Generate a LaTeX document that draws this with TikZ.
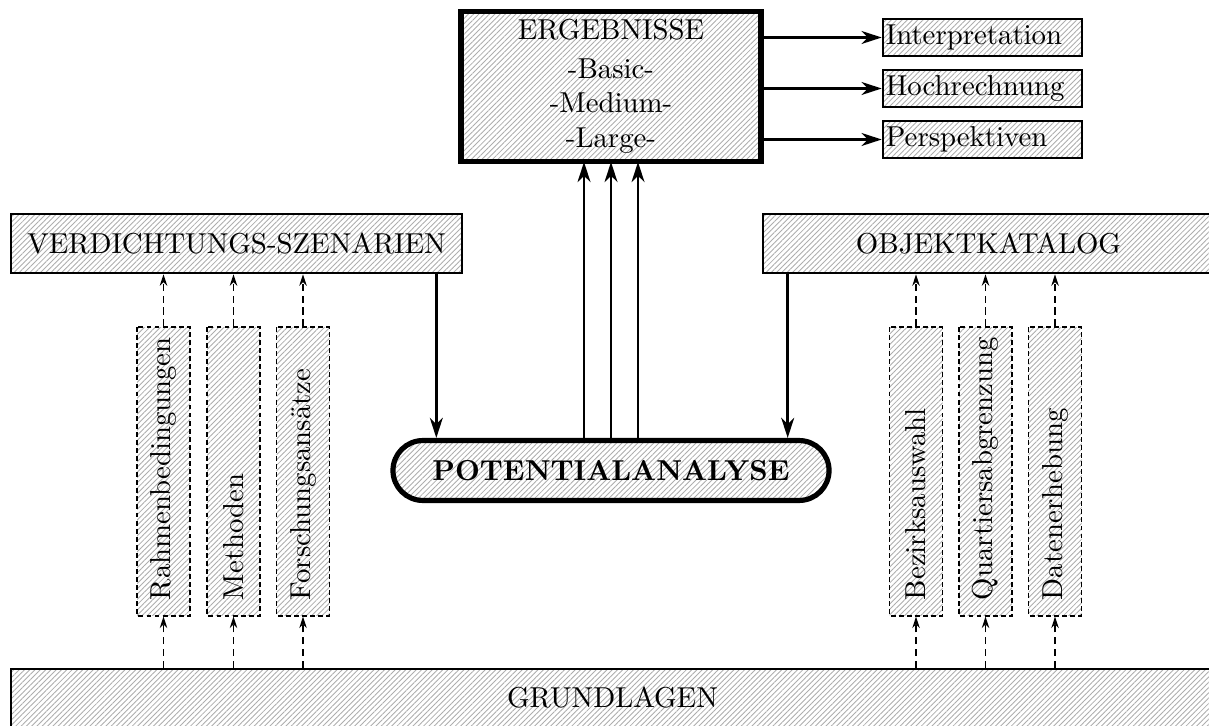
\documentclass[tikz,border=0pt]{standalone}
\usetikzlibrary{arrows.meta,patterns.meta,calc}
\begin{document}
\begin{tikzpicture}[x=0.3472pt,y=-0.3472pt,
  hatch/.style={pattern={Lines[angle=45,distance=1.3pt,line width=0.3pt]},pattern color=black!32},
  box/.style={draw,line width=0.9pt,hatch,inner sep=0pt},
  heavybox/.style={draw,line width=1.8pt,hatch,inner sep=0pt},
  sidebox/.style={box,minimum width=69.1pt,minimum height=12.85pt,text width=67.1pt,inner xsep=1pt,align=left},
  widebox/.style={box,minimum width=156.6pt,minimum height=20.5pt},
  sbox/.style={draw,line width=0.45pt,dash pattern=on 1.7pt off 1.1pt,hatch,rotate=90,
     minimum height=18.4pt,text width=89.3pt,inner xsep=5.5pt,inner ysep=0pt,align=left},
  arr/.style={line width=0.85pt,-{Stealth[length=7pt,width=4.5pt,inset=2.2pt]}},
  darr/.style={line width=0.5pt,dash pattern=on 2.5pt off 1.6pt,-{Stealth[length=4pt,width=2.6pt,inset=1.3pt]}}
]
\useasboundingbox (0,0) rectangle (1209,726);

% top
\node[heavybox,minimum width=104.2pt,minimum height=52.1pt,align=center] (erg) at (611,86.5)
  {ERGEBNISSE\\[1.3pt]-Basic-\\[0pt]-Medium-\\[0pt]-Large-};
\node[sidebox] (int) at (982.5,37.5) {Interpretation};
\node[sidebox] (hoch) at (982.5,88.5) {Hochrechnung};
\node[sidebox] (persp) at (982.5,139.5) {Perspektiven};
\draw[arr] (erg.east |- int.west) -- (int.west);
\draw[arr] (erg.east |- hoch.west) -- (hoch.west);
\draw[arr] (erg.east |- persp.west) -- (persp.west);

% middle
\node[widebox] (verd) at (236.5,243.5) {VERDICHTUNGS-SZENARIEN};
\node[widebox] (obj) at (988.5,243.5) {OBJEKTKATALOG};
\node[draw,line width=1.8pt,hatch,inner sep=0pt,minimum width=151.4pt,minimum height=20.8pt,
  rounded corners=10.4pt,font=\bfseries] (pot) at (611,470.5) {POTENTIALANALYSE};

\draw[arr] ([xshift=-27*0.3472pt]verd.south east) -- ([xshift=-27*0.3472pt]verd.south east |- pot.north);
\draw[arr] ([xshift=26*0.3472pt]obj.south west) -- ([xshift=26*0.3472pt]obj.south west |- pot.north);

\draw[arr] ([xshift=-27*0.3472pt]pot.north) -- ([xshift=-27*0.3472pt]pot.north |- erg.south);
\draw[arr] (pot.north) -- (pot.north |- erg.south);
\draw[arr] ([xshift=27*0.3472pt]pot.north) -- ([xshift=27*0.3472pt]pot.north |- erg.south);

% bottom
\node[box,minimum width=417.7pt,minimum height=20.1pt] (grund) at (612.5,698) {GRUNDLAGEN};

% small dashed boxes
\node[sbox] (r1) at (163.5,471.5) {Rahmenbedingungen};
\node[sbox] (r2) at (233.5,471.5) {Methoden};
\node[sbox] (r3) at (303,471.5) {Forschungsansätze};
\node[sbox] (q1) at (916,471.5) {Bezirksauswahl};
\node[sbox] (q2) at (985.5,471.5) {Quartiersabgrenzung};
\node[sbox] (q3) at (1055,471.5) {Datenerhebung};

\foreach \n in {r1,r2,r3}{
  \draw[darr] (\n.east) -- (\n.east |- verd.south);
  \draw[darr] (\n.west |- grund.north) -- (\n.west);
}
\foreach \n in {q1,q2,q3}{
  \draw[darr] (\n.east) -- (\n.east |- obj.south);
  \draw[darr] (\n.west |- grund.north) -- (\n.west);
}
\end{tikzpicture}
\end{document}
